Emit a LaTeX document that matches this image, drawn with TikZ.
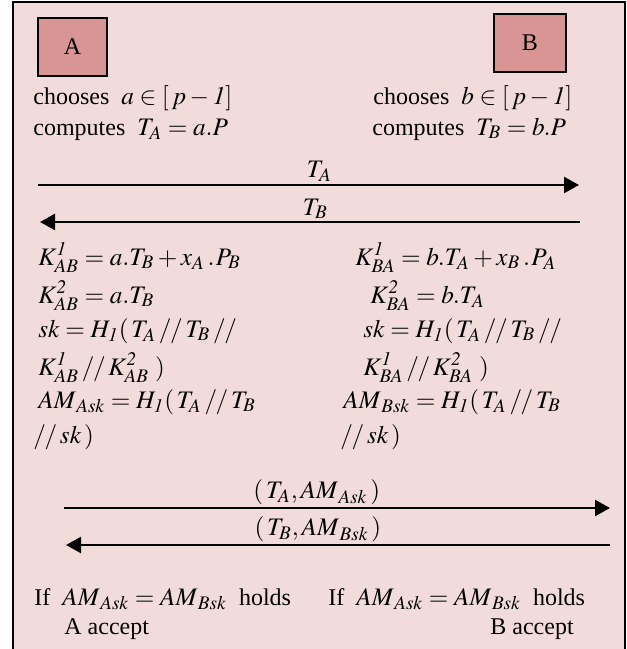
\documentclass[tikz,border=0pt]{standalone}
\usepackage{mathptmx}
\usepackage{fontspec}
\setmainfont{Liberation Serif}
\usetikzlibrary{arrows.meta}
\definecolor{panelpink}{HTML}{F2DCDB}
\definecolor{partyred}{HTML}{D99594}
\DeclareMathSizes{12}{12.6}{9.6}{7}
\newcommand{\cat}{\,/\mkern-1mu/\,}
\begin{document}
\begin{tikzpicture}[x=0.5pt, y=-0.5pt,
  every node/.style={font=\fontsize{12}{14}\selectfont, inner sep=0pt},
  party/.style={draw, fill=partyred, line width=0.8pt, minimum height=29pt},
  txt/.style={anchor=base west},
  msg/.style={line width=1.2pt, -{Triangle[length=7.5pt, width=8pt]}},
  msglbl/.style={above=1pt}]
  \useasboundingbox (0,0) rectangle (627,649);
  % panel
  \fill[panelpink] (13,2) rectangle (625,649);
  \draw[line width=0.75pt] (13,649) -- (13,2) -- (625,2) -- (625,649);
  % the two parties
  \node[party, minimum width=34.5pt] (boxA) at (72.5,47) {A};
  \node[party, minimum width=36pt] (boxB) at (530,43) {B};
  \node[txt] (chooseA) at (33,104) {chooses \ $a\in[\,p-\mathit{1}]$};
  \node[txt] (computeA) at (33,135) {computes \ $T_A=a.P$};
  \node[txt] (chooseB) at (373,104) {chooses \ $b\in[\,p-\mathit{1}]$};
  \node[txt] (computeB) at (372,135) {computes \ $T_B=b.P$};
  % first exchange
  \coordinate (m1s) at (38,185);
  \coordinate (m1e) at (579,185);
  \coordinate (m2s) at (580,222);
  \coordinate (m2e) at (40,222);
  \draw[msg] (m1s) -- (m1e) node[pos=0.52, msglbl] (lblTA) {$T_A$};
  \draw[msg] (m2s) -- (m2e) node[pos=0.49, msglbl] (lblTB) {$T_B$};
  % keys on A side
  \node[txt] (kOneA) at (38,265) {$K^{\mathit{1}}_{AB}=a.T_B+x_A\,.\mkern1mu P_B$};
  \node[txt] (kTwoA) at (38,303) {$K^{\mathit{2}}_{AB}=a.T_B$};
  \node[txt] (skA) at (38,337) {$sk=H_{\mathit{1}}(\,T_A\cat T_B\cat$};
  \node[txt] (skArest) at (38,375) {$K^{\mathit{1}}_{AB}\cat K^{\mathit{2}}_{AB}\ )$};
  \node[txt] (amA) at (38,408) {$AM_{\,Ask}=H_{\mathit{1}}(\,T_A\cat T_B$};
  \node[txt] (amArest) at (33,443) {$/\mkern-1mu/\,sk\,)$};
  % keys on B side
  \node[txt] (kOneB) at (355,265) {$K^{\mathit{1}}_{BA}=b.T_A+x_B\,.\mkern1mu P_A$};
  \node[txt] (kTwoB) at (370,303) {$K^{\mathit{2}}_{BA}=b.T_A$};
  \node[txt] (skB) at (363,337) {$sk=H_{\mathit{1}}(\,T_A\cat T_B\cat$};
  \node[txt] (skBrest) at (363,375) {$K^{\mathit{1}}_{BA}\cat K^{\mathit{2}}_{BA}\ )$};
  \node[txt] (amB) at (343,408) {$AM_{\,Bsk}=H_{\mathit{1}}(\,T_A\cat T_B$};
  \node[txt] (amBrest) at (340,443) {$/\mkern-1mu/\,sk\,)$};
  % confirmation exchange
  \coordinate (m3s) at (64,508);
  \coordinate (m3e) at (610,508);
  \coordinate (m4s) at (610,545);
  \coordinate (m4e) at (66,545);
  \draw[msg] (m3s) -- (m3e) node[pos=0.463, msglbl] (lblAMA) {$(\,T_A,AM_{\,Ask}\,)$};
  \draw[msg] (m4s) -- (m4e) node[pos=0.537, msglbl] (lblAMB) {$(\,T_B,AM_{\,Bsk}\,)$};
  % verification
  \node[txt] (checkA) at (34,605) {If \ $AM_{\,Ask}=AM_{\,Bsk}$ \ holds};
  \node[txt] (checkB) at (328,605) {If \ $AM_{\,Ask}=AM_{\,Bsk}$ \ holds};
  \node[txt] (acceptA) at (64,634) {A accept};
  \node[txt] (acceptB) at (490,634) {B accept};
\end{tikzpicture}
\end{document}
